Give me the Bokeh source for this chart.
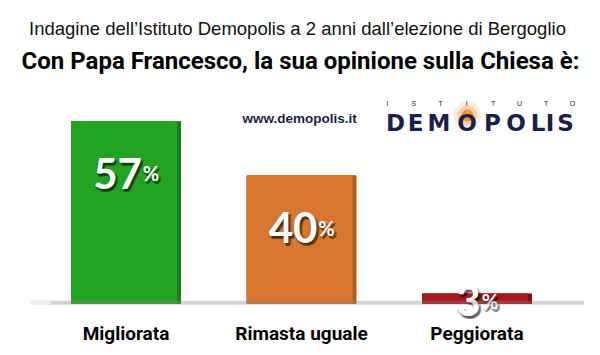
import numpy as np
from bokeh.plotting import figure
from bokeh.models import Range1d, Label, BoxAnnotation
from bokeh.core.properties import value
from bokeh.embed import file_html
from bokeh.resources import INLINE

# ---- data ----
categories = ["Migliorata", "Rimasta uguale", "Peggiorata"]
percentages = [57, 40, 3]
bar_colors = ["#22a322", "#d8772f", "#a8191c"]
edge_colors = ["#178017", "#b45e20", "#7d1012"]
title_top = "Indagine dell\u2019Istituto Demopolis a 2 anni dall\u2019elezione di Bergoglio"
title_main = "Con Papa Francesco, la sua opinione sulla Chiesa \u00e8:"

W, H = 584, 347
PX_PER_CAT = 175.5
PX_PER_PCT = 3.193
X0 = -125.5 / PX_PER_CAT
X1 = X0 + W / PX_PER_CAT
Y0 = -(H - 303) / PX_PER_PCT
Y1 = Y0 + H / PX_PER_PCT

def dx(px):
    return X0 + px / PX_PER_CAT

def dy(py):
    return Y1 - py / PX_PER_PCT

p = figure(width=W, height=H, x_range=Range1d(X0, X1), y_range=Range1d(Y0, Y1),
           output_backend="svg", toolbar_location=None, min_border=0,
           outline_line_color=None, background_fill_color="white")
p.axis.visible = False
p.grid.visible = False

xs = np.arange(len(categories))
bw = 109 / PX_PER_CAT
edge = 4 / PX_PER_CAT

# baseline shadow
for (l, r, b, t, a) in [(dx(30), dx(584), -0.5, 1.0, 0.15), (dx(50), dx(584), -0.3, 0.8, 0.25)]:
    p.add_layout(BoxAnnotation(left=l, right=r, bottom=b, top=t, fill_color="#888888",
                               fill_alpha=a, line_color=None))

# bars with darker right edge
p.vbar(x=xs, top=percentages, width=bw, bottom=0, color=edge_colors)
p.vbar(x=xs - edge / 2, top=percentages, width=bw - edge, bottom=0, color=bar_colors)

# value labels
num_size, pct_size = 42, 20
num_w = np.array([len(str(v)) * 0.58 * num_size for v in percentages])
tot_w = num_w + 0.85 * pct_size
right_off = num_w - tot_w / 2
yoff = np.array([52 if v >= 10 else 7 for v in percentages])
nums = [str(v) for v in percentages]
layers = [("black", 1, 3, 0.25), ("black", 3, 2, 0.25), ("black", 2, 3, 0.3),
          ("black", -1, 1, 0.2), ("white", 0, 0, 1.0)]
for (col, ox, oy, alpha) in layers:
    p.text(x=xs, y=percentages, text=nums, x_offset=right_off + ox, y_offset=yoff + oy,
           text_align="right", text_baseline="alphabetic", text_font=value("Lato"),
           text_font_style="bold", text_font_size=f"{num_size}px", text_color=col, text_alpha=alpha)
    p.text(x=xs, y=percentages, text=["%"] * len(xs), x_offset=right_off + 1 + ox, y_offset=yoff + oy,
           text_align="left", text_baseline="alphabetic", text_font=value("Lato"),
           text_font_style="bold", text_font_size=f"{pct_size}px", text_color=col, text_alpha=alpha)

# category labels
cond = "Roboto"
p.text(x=xs, y=[0] * len(xs), text=categories, y_offset=30, text_align="center",
       text_baseline="alphabetic", text_font=value(cond), text_font_style="bold",
       text_font_size="19px", text_color="black")

# titles
p.add_layout(Label(x=dx(297), y=dy(28), text=title_top, text_align="center",
                   text_baseline="alphabetic", text_font="Liberation Sans",
                   text_font_size="18.5px", text_color="#111111"))
p.add_layout(Label(x=dx(300), y=dy(60), text=title_main, text_align="center",
                   text_baseline="alphabetic", text_font=cond, text_font_style="bold",
                   text_font_size="24px", text_color="black"))

# logo
navy = "#1b1f4b"
p.add_layout(Label(x=dx(242), y=dy(118), text="www.demopolis.it", text_align="left",
                   text_baseline="alphabetic", text_font="Liberation Sans",
                   text_font_style="bold", text_font_size="13.5px", text_color=navy))
# orange glow behind O
for (r, a) in [(14, 0.15), (10, 0.3), (6, 0.9)]:
    cx, cy = 467, 115
    p.add_layout(BoxAnnotation(left=dx(cx - r), right=dx(cx + r), top=dy(cy - r), bottom=dy(cy + r),
                               fill_color="#e8902a", fill_alpha=a, line_color=None,
                               border_radius=r))
logo_letters = list("DEMOPOLIS")
logo_cx = [395, 415, 438.5, 466.5, 492, 515.5, 537.5, 549.5, 565]
for ch, cx in zip(logo_letters, logo_cx):
    p.add_layout(Label(x=dx(cx), y=dy(122), text=ch, text_align="center",
                       text_baseline="alphabetic", text_font="DejaVu Sans",
                       text_font_style="bold", text_font_size="23px", text_color=navy))
small = list("ISTITUTO")
for i, ch in enumerate(small):
    cx = 387 + i * (572 - 387) / (len(small) - 1)
    p.add_layout(Label(x=dx(cx), y=dy(103), text=ch, text_align="center",
                       text_baseline="alphabetic", text_font="Liberation Sans",
                       text_font_size="7px", text_color=navy))

open("out.html", "w").write(file_html(p, INLINE))
